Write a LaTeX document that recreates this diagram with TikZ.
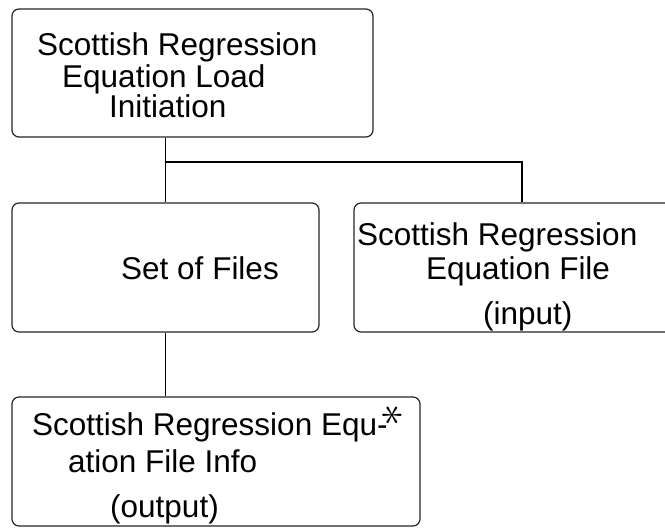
\documentclass[tikz,border=0pt]{standalone}
\usepackage{fontspec}
\setmainfont{Liberation Sans}
\begin{document}
\begin{tikzpicture}[x=1pt,y=-1pt,
  box/.style={draw=black!85, line width=1.2pt, rounded corners=7pt, inner sep=0pt},
  conn/.style={draw=black, line width=1.2pt},
  txt/.style={anchor=base west, inner sep=0pt, font=\fontsize{31.5}{32}\selectfont}]
\useasboundingbox (0,0) rectangle (665,528);
\clip (0,0) rectangle (665,528);
\fill[white] (0,0) rectangle (665,528);
\node[box, minimum width=361pt, minimum height=128pt] (b1) at (192.5,73) {};
\node[box, minimum width=307pt, minimum height=129pt] (b2) at (165.5,267.5) {};
\node[box, minimum width=336pt, minimum height=129pt] (b3) at (522,267.5) {};
\node[box, minimum width=408pt, minimum height=129pt] (b4) at (216,461.5) {};
\coordinate (j) at (165.5,162);
\draw[conn] (j |- b1.south) -- (b2.north);
\draw[conn] (j) -- (j -| b3.north) -- (b3.north);
\draw[conn] (b2.south) -- (b2.south |- b4.north);
% box 1
\node[txt] (t1a) at (37,55) {Scottish Regression};
\node[txt] (t1b) at (62,87) {Equation Load};
\node[txt] (t1c) at (109,117) {Initiation};
% box 2
\node[txt, anchor=base] (t2) at (200,279) {Set of Files};
% box 3
\node[txt] (t3a) at (357,245) {Scottish Regression};
\node[txt] (t3b) at (426,279) {Equation File};
\node[txt] (t3c) at (483,324) {(input)};
% box 4
\node[txt] (t4a) at (32,435) {Scottish Regression Equ-};
\node[inner sep=0pt, font=\fontsize{36}{36}\selectfont, rotate=90, scale=1.8] (t4s) at (393.5,415) {$\ast$};
\node[txt] (t4b) at (68,472) {ation File Info};
\node[txt] (t4c) at (110,517) {(output)};
\end{tikzpicture}
\end{document}
